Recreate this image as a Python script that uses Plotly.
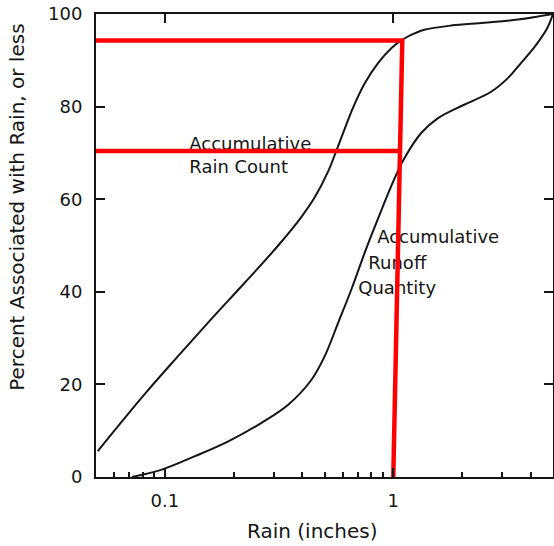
import plotly.graph_objects as go
import math

# Accumulative Rain Count curve
rain_count_x = [0.0509, 0.0820, 0.1148, 0.1604, 0.2243, 0.3136, 0.3965, 0.4532,
                0.5187, 0.5637, 0.6129, 0.6668, 0.7492, 0.8574, 0.980, 1.084, 1.239,
                1.366, 1.79, 2.50, 3.51, 5.0]
rain_count_y = [5.6, 18.0, 26.2, 34.2, 42.0, 50.0, 56.2, 60.4,
                66.0, 70.5, 75.2, 79.8, 85.0, 89.4, 92.6, 94.3, 95.8,
                96.6, 97.5, 98.1, 98.8, 100]

# Accumulative Runoff Quantity curve
runoff_x = [0.0718, 0.097, 0.1356, 0.1897, 0.2652, 0.3468, 0.4385, 0.5012, 0.5736,
            0.6555, 0.7492, 0.8015, 0.8864, 1.013, 1.120, 1.325, 1.57, 2.042, 2.68,
            3.18, 3.62, 4.17, 4.70, 5.0]
runoff_y = [0, 1.6, 4.5, 7.7, 11.7, 15.6, 21.0, 26.1, 33.3,
            40.5, 48.4, 52.2, 57.6, 64.5, 68.9, 74.3, 77.5, 80.4, 83.2,
            86.2, 89.4, 93.0, 96.8, 100]

# Red guide lines (drawn over the figure)
red_upper_x = [0.05, 1.117]
red_upper_y = [94.3, 94.3]
red_lower_x = [0.05, 1.07]
red_lower_y = [70.4, 70.4]
red_vert_x = [1.0, 1.095]
red_vert_y = [0, 94.3]

x_tick_vals = [0.1, 1]
x_tick_text = ["0.1", "1"]
x_minor_vals = [0.06, 0.07, 0.08, 0.09, 0.2, 0.3, 0.4, 0.5, 0.6, 0.7, 0.8, 0.9, 2, 3, 4]
y_tick_vals = [0, 20, 40, 60, 80, 100]

XR = [math.log10(0.05), math.log10(5)]
YR = [0, 100]
INK = "#151515"
FONT = "DejaVu Sans"

fig = go.Figure()

fig.add_trace(go.Scatter(x=rain_count_x, y=rain_count_y, mode="lines",
                         line=dict(color=INK, width=2, shape="spline", smoothing=1.0),
                         showlegend=False, hoverinfo="skip"))
fig.add_trace(go.Scatter(x=runoff_x, y=runoff_y, mode="lines",
                         line=dict(color=INK, width=2, shape="spline", smoothing=1.0),
                         showlegend=False, hoverinfo="skip"))

# labels as text traces
fig.add_trace(go.Scatter(x=[0.128, 0.128], y=[71.7, 66.6], mode="text",
                         text=["Accumulative", "Rain Count"], textposition="middle right",
                         textfont=dict(family=FONT, size=18, color=INK),
                         showlegend=False, hoverinfo="skip"))
fig.add_trace(go.Scatter(x=[0.850, 0.778, 0.703], y=[51.5, 45.8, 40.5], mode="text",
                         text=["Accumulative", "Runoff", "Quantity"], textposition="middle right",
                         textfont=dict(family=FONT, size=18, color=INK),
                         showlegend=False, hoverinfo="skip"))

for xs, ys in [(red_upper_x, red_upper_y), (red_lower_x, red_lower_y), (red_vert_x, red_vert_y)]:
    fig.add_trace(go.Scatter(x=xs, y=ys, mode="lines",
                             line=dict(color="#ff0000", width=4.5),
                             showlegend=False, hoverinfo="skip", cliponaxis=False))

# invisible trace for mirror axes
fig.add_trace(go.Scatter(x=[1], y=[50], xaxis="x2", yaxis="y2", mode="markers",
                         marker=dict(opacity=0), showlegend=False, hoverinfo="skip"))

fig.update_layout(
    width=554, height=546,
    margin=dict(l=96, r=1, t=14, b=69),
    paper_bgcolor="white", plot_bgcolor="white",
    font=dict(family=FONT, color=INK, size=18),
    xaxis=dict(type="log", range=XR, tickmode="array", tickvals=x_tick_vals, ticktext=x_tick_text,
               ticks="inside", ticklen=9, tickwidth=1.5, tickcolor=INK, ticklabelstandoff=6,
               showline=True, linecolor=INK, linewidth=2, showgrid=False, zeroline=False,
               tickfont=dict(family=FONT, size=18, color=INK),
               minor=dict(tickmode="array", tickvals=x_minor_vals, ticks="inside",
                          ticklen=5, tickwidth=1.5, tickcolor=INK, showgrid=False)),
    yaxis=dict(range=YR, tickmode="array", tickvals=y_tick_vals,
               ticks="inside", ticklen=9, tickwidth=1.5, tickcolor=INK, ticklabelstandoff=8,
               showline=True, linecolor=INK, linewidth=2, showgrid=False, zeroline=False,
               tickfont=dict(family=FONT, size=18, color=INK)),
    xaxis2=dict(type="log", range=XR, overlaying="x", side="top", tickmode="array",
                tickvals=x_tick_vals, showticklabels=False, ticks="inside", ticklen=9,
                tickwidth=1.5, tickcolor=INK, showline=True, linecolor=INK, linewidth=2,
                showgrid=False, zeroline=False),
    yaxis2=dict(range=YR, overlaying="y", side="right", tickmode="array",
                tickvals=[20, 40, 60, 80], showticklabels=False, ticks="inside", ticklen=9,
                tickwidth=1.5, tickcolor=INK, showline=True, linecolor=INK, linewidth=2,
                showgrid=False, zeroline=False),
    annotations=[
        dict(text="Rain (inches)", xref="paper", yref="paper", x=(312 - 96) / 457, y=-(532 - 477.5) / 463.5,
             showarrow=False, xanchor="center", yanchor="middle",
             font=dict(family=FONT, size=20, color=INK)),
        dict(text="Percent Associated with Rain, or less", xref="paper", yref="paper",
             x=-(96 - 17) / 457, y=(477.5 - 208) / 463.5, textangle=-90,
             showarrow=False, xanchor="center", yanchor="middle",
             font=dict(family=FONT, size=20, color=INK)),
    ],
)

fig.write_html("out.html")
